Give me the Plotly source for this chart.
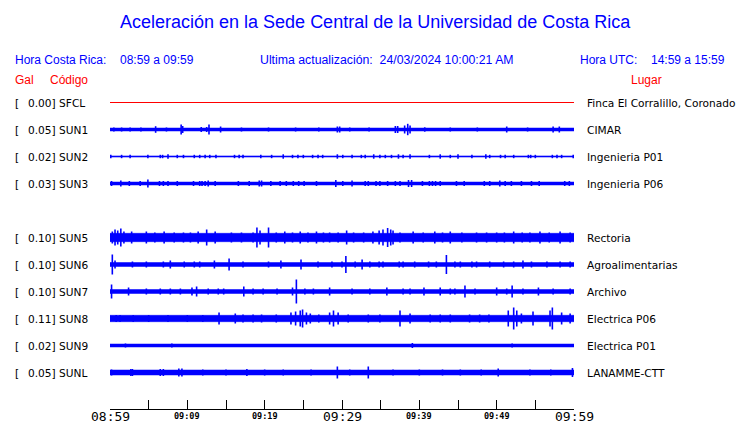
import plotly.graph_objects as go

estaciones = ["SFCL", "SUN1", "SUN2", "SUN3", "SUN5", "SUN6", "SUN7", "SUN8", "SUN9", "SUNL"]
gal = [0.00, 0.05, 0.02, 0.03, 0.10, 0.10, 0.10, 0.11, 0.02, 0.05]
lugares = ["Finca El Corralillo, Coronado", "CIMAR", "Ingenieria P01", "Ingenieria P06",
           "Rectoria", "Agroalimentarias", "Archivo", "Electrica P06", "Electrica P01", "LANAMME-CTT"]

# semi-amplitud del ruido de fondo de cada traza
fondo = [0.0, 1.5, 0.6, 1.5, 4.2, 2.0, 2.0, 3.2, 1.5, 2.5]

# picos: minuto desde 08:59 y semi-amplitud
sfcl_t, sfcl_a = [], []
sun1_t = [0.5, 1.5, 2.6, 4.0, 5.9, 7.3, 9.2, 9.4, 11.8, 12.5, 12.8, 14.3, 17.0, 20.5, 24.0, 27.0,
          29.4, 29.7, 31.0, 33.5, 36.9, 37.2, 38.1, 38.5, 38.8, 40.7, 44.0, 47.5, 51.3, 54.0, 57.3, 58.1]
sun1_a = [2, 2, 2, 2, 3.3, 2, 5, 3.5, 2.5, 2.5, 5, 3, 2, 2, 2, 2,
          3, 3, 2, 2, 3.5, 3.5, 4, 5.7, 4, 2.2, 2, 2, 3, 2, 3, 3]
sun2_t = [0.1, 1.5, 2.6, 4.9, 6.5, 6.8, 7.5, 8.7, 9.5, 10.9, 11.6, 12.3, 12.9, 13.7, 16.1, 16.7,
          17.2, 19.5, 20.9, 22.4, 23.6, 24.3, 25.0, 26.2, 26.9, 27.5, 29.4, 30.1, 31.3, 32.5, 33.0,
          34.1, 34.9, 35.6, 36.4, 37.3, 37.9, 38.8, 41.3, 42.7, 44.0, 45.0, 46.8, 48.6, 49.1, 50.5,
          51.1, 52.2, 54.1, 54.4, 55.0, 57.2, 57.8, 58.4, 59.9]
sun2_a = [1.7, 1.7, 1.7, 1.7, 1.7, 1.7, 2.2, 1.7, 1.7, 1.7, 1.7, 1.7, 1.7, 1.7, 1.7, 1.7,
          1.7, 1.7, 1.7, 2.2, 1.7, 1.7, 1.7, 1.7, 1.7, 1.7, 2.2, 1.7, 1.7, 1.7, 1.7,
          2.2, 1.7, 1.7, 1.7, 2.2, 1.7, 2.2, 1.7, 2.2, 1.7, 2.2, 1.7, 2.2, 1.7, 1.7,
          1.7, 1.7, 1.7, 1.7, 1.7, 1.7, 1.7, 1.7, 1.7]
sun3_t = [0.2, 1.4, 2.5, 3.9, 4.9, 6.4, 6.9, 7.5, 8.7, 10.8, 11.6, 11.9, 12.3, 12.7, 13.6, 16.6,
          18.0, 19.3, 19.6, 20.8, 22.0, 22.8, 23.7, 24.4, 25.1, 26.7, 29.2, 30.1, 31.3, 33.0, 33.4,
          34.4, 34.9, 35.9, 36.9, 37.5, 38.6, 39.0, 40.4, 41.3, 41.7, 42.1, 42.7, 44.8, 45.8, 48.4,
          49.1, 50.4, 51.1, 51.9, 53.2, 54.5, 55.5, 58.8, 59.4]
sun3_a = [2.5, 3, 2.5, 2.5, 4, 2.5, 2.5, 2.5, 2.5, 2.5, 2.5, 2.5, 2.5, 3, 2.5, 2.5,
          2.5, 3, 3, 2.5, 2.5, 2.5, 2.5, 2.5, 2.5, 2.5, 3.5, 2.5, 3, 2.5, 2.5,
          2.5, 2.5, 2.5, 2.5, 2.5, 3.5, 3.5, 2.5, 2.5, 2.5, 2.5, 2.5, 2.5, 2.5, 2.5,
          2.5, 3, 2.5, 2.5, 2.5, 2.5, 2.5, 2.5, 2.5]
sun5_t = [0.3, 0.65, 1.0, 1.4, 1.8, 2.8, 4.7, 5.8, 7.0, 8.3, 9.5, 10.4, 11.4, 12.5, 13.6, 15.7,
          17.0, 18.5, 19.0, 19.4, 20.5, 21.5, 22.6, 23.6, 24.6, 25.6, 26.7, 27.6, 28.4, 29.5, 30.6,
          31.5, 32.8, 34.0, 34.8, 35.3, 35.9, 36.3, 36.6, 37.5, 39.2, 40.5, 42.0, 43.0, 44.0, 45.5,
          47.4, 48.7, 50.0, 51.0, 52.2, 53.3, 54.3, 55.6, 56.8, 58.2, 59.5]
sun5_a = [6, 8, 7, 9, 6, 6, 6, 5, 6, 5, 5, 5, 6, 8, 6, 5,
          5, 5, 10, 7, 10, 5, 6, 5, 6, 5, 6, 5, 5, 5, 7,
          5, 5, 6, 7, 8, 9.5, 8, 7, 5, 6, 5, 6, 5, 6, 5,
          5, 5, 5, 5, 6, 5, 5, 6, 5, 6, 5]
sun6_t = [0.3, 0.65, 2.9, 4.7, 6.9, 7.8, 9.6, 10.9, 11.6, 13.5, 15.4, 17.2, 20.5, 22.1, 24.7, 26.9,
          28.7, 30.0, 30.5, 31.7, 32.6, 33.6, 34.8, 35.3, 37.4, 37.9, 39.4, 41.2, 42.2, 43.5, 44.6,
          45.3, 46.8, 47.4, 49.1, 50.9, 52.2, 53.4, 54.5, 56.5, 58.2, 59.5]
sun6_a = [10, 4, 3, 3, 3, 4, 3, 3, 3, 4, 6, 3, 3, 4, 5, 3,
          3, 3, 8.5, 3, 5, 3, 3, 3, 3, 3, 3, 3, 3, 9.5, 3,
          3, 3, 3, 3, 3, 3, 4, 3, 3, 3, 3]
sun7_t = [0.2, 2.4, 4.7, 6.5, 7.8, 9.1, 10.6, 11.2, 12.7, 14.0, 14.7, 17.3, 18.5, 19.8, 21.6, 23.6,
          24.1, 25.2, 26.3, 28.4, 31.3, 33.6, 35.8, 37.9, 38.8, 40.6, 42.7, 44.0, 44.6, 45.9, 47.2,
          50.0, 51.3, 52.0, 53.4, 55.4, 57.3, 59.5]
sun7_a = [7, 4, 3, 3, 3, 3, 4, 5, 3, 3, 3, 5, 3, 3, 3, 4,
          12, 3, 3, 4, 3, 3, 4, 3, 3, 4, 4, 3, 3, 6, 3,
          4, 3, 6, 3, 4, 3, 3]
sun8_t = [0.8, 1.3, 3.0, 5.0, 7.5, 10.0, 12.0, 14.1, 16.2, 17.2, 18.5, 19.6, 21.5, 23.4, 24.0, 24.6,
          24.9, 25.4, 25.9, 27.0, 28.4, 28.9, 29.5, 30.8, 33.4, 34.9, 37.5, 38.8, 41.4, 42.7, 44.0,
          46.5, 47.8, 49.0, 51.5, 52.2, 52.6, 53.2, 54.7, 56.9, 57.2, 58.4, 59.5]
sun8_a = [3.5, 3.5, 3.5, 3.5, 3.5, 3.5, 3.5, 6, 5, 4, 4, 4, 4, 6, 7, 8,
          9, 6, 5, 4, 6, 8, 6, 4, 4, 4, 8, 5, 4, 4, 4,
          4, 4, 4, 8, 11, 8, 5, 7, 8, 11, 6, 5]
sun9_t = [2.0, 8.0, 39.1, 52.0]
sun9_a = [2, 2, 2.5, 2]
sunl_t = [0.2, 2.7, 2.9, 6.5, 6.9, 8.9, 9.3, 12.0, 15.0, 17.7, 20.0, 22.4, 26.0, 29.4, 31.0, 33.4,
          36.6, 40.0, 43.0, 45.3, 48.0, 50.2, 54.3, 57.0, 59.8]
sunl_a = [3, 3.5, 3.5, 3.5, 3.5, 4, 4, 3, 3, 3.5, 3, 3, 3, 6, 3, 6,
          3, 3, 3, 3, 3, 4, 3, 3, 4.5]

picos_t = [sfcl_t, sun1_t, sun2_t, sun3_t, sun5_t, sun6_t, sun7_t, sun8_t, sun9_t, sunl_t]
picos_a = [sfcl_a, sun1_a, sun2_a, sun3_a, sun5_a, sun6_a, sun7_a, sun8_a, sun9_a, sunl_a]

# eje de tiempo (minutos desde 08:59)
ticks_mayores = [0, 10, 20, 30, 40, 50, 60]
ticks_texto = ["08:59", "09:09", "09:19", "09:29", "09:39", "09:49", "09:59"]

W, H = 740, 423
AZUL = "#0000ff"

# posicion vertical (px) de cada fila; SUN4 no aparece -> hueco
filas = [0, 1, 2, 3, 5, 6, 7, 8, 9, 10]
y_fila = [103 + 27 * f for f in filas]

fig = go.Figure()

for i, est in enumerate(estaciones):
    yc = y_fila[i]
    if gal[i] == 0:
        fig.add_trace(go.Scatter(x=[0, 60], y=[yc, yc], mode="lines",
                                 line=dict(color="red", width=1), hoverinfo="skip"))
        continue
    b = fondo[i]
    fig.add_trace(go.Scatter(x=[0, 60, 60, 0, 0], y=[yc - b, yc - b, yc + b, yc + b, yc - b],
                             mode="lines", fill="toself", fillcolor=AZUL,
                             line=dict(color=AZUL, width=0.5), hoverinfo="skip"))
    xs, ys = [], []
    for t, a in zip(picos_t[i], picos_a[i]):
        xs += [t, t, None]
        ys += [yc - a, yc + a, None]
    fig.add_trace(go.Scatter(x=xs, y=ys, mode="lines",
                             line=dict(color=AZUL, width=1.6), hoverinfo="skip"))


def px(x):
    return x / W


def py(y):
    return 1 - y / H


def texto(t, x, y, size, color, font="DejaVu Sans", xanchor="left", xref="paper"):
    fig.add_annotation(text=t, x=x if xref == "x" else px(x), y=py(y), xref=xref, yref="paper",
                       xanchor=xanchor, yanchor="middle", showarrow=False, borderpad=0,
                       font=dict(family=font, size=size, color=color))


# titulo y encabezados
texto("Aceleración en la Sede Central de la Universidad de Costa Rica", 375, 22, 18, AZUL,
      "Liberation Sans", "center")
texto("Hora Costa Rica:", 14, 60, 12, AZUL, "Liberation Sans")
texto("08:59 a 09:59", 119, 60, 12, AZUL, "Liberation Sans")
texto("Ultima actualización:  24/03/2024 10:00:21 AM", 387, 60, 12.3, AZUL, "Liberation Sans", "center")
texto("Hora UTC:", 579, 60, 12, AZUL, "Liberation Sans")
texto("14:59 a 15:59", 726, 60, 12, AZUL, "Liberation Sans", "right")
texto("Gal", 14, 80, 12, "red", "Liberation Sans")
texto("Código", 49, 80, 12, "red", "Liberation Sans")
texto("Lugar", 646, 80, 12, "red", "Liberation Sans", "center")

for i, est in enumerate(estaciones):
    yc = y_fila[i]
    texto("[", 14, yc, 10.6, "black")
    texto(f"{gal[i]:.2f}] {est}", 27, yc, 10.6, "black")
    texto(lugares[i], 586, yc, 10.6, "black")

# etiquetas del eje de tiempo: grandes cada 30 min, pequeñas en negrita el resto
for k, (v, t) in enumerate(zip(ticks_mayores, ticks_texto)):
    if k % 3 == 0:
        texto(t, v, 416, 13, "black", "DejaVu Sans Mono", "center", "x")
    else:
        texto(f"<b>{t}</b>", v, 416, 8.5, "black", "DejaVu Sans Mono", "center", "x")

fig.update_layout(
    template="none",
    width=W, height=H,
    margin=dict(l=0, r=0, t=0, b=0, pad=0),
    paper_bgcolor="white", plot_bgcolor="white",
    showlegend=False,
    xaxis=dict(domain=[110 / W, 574 / W], range=[0, 60], showgrid=False, zeroline=False,
               automargin=False, showticklabels=False,
               showline=True, linecolor="black", linewidth=1,
               ticks="inside", ticklen=9, tickcolor="black", tickwidth=1,
               tickvals=ticks_mayores,
               minor=dict(tickvals=[5, 15, 25, 35, 45, 55], ticks="inside", ticklen=9,
                          tickcolor="black", tickwidth=1)),
    yaxis=dict(domain=[(H - 409) / H, 1], range=[409.5, 0.5], visible=False, automargin=False),
)

fig.write_html("out.html", config={"displayModeBar": False},
               post_script="document.body.style.margin='0';")
